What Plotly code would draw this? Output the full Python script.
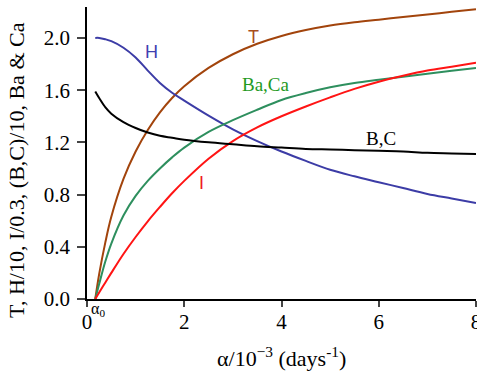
import plotly.graph_objects as go

# alpha grid (10^-3 days^-1), starting at alpha_0
alpha = [0.17, 0.25, 0.375, 0.5, 0.75, 1.0, 1.25, 1.5, 1.75, 2.0,
         2.5, 3.0, 3.5, 4.0, 4.5, 5.0, 5.5, 6.0, 6.5, 7.0, 7.5, 8.0]

t_vals = [0.0, 0.19, 0.43, 0.63, 0.92, 1.13, 1.295, 1.43, 1.54, 1.63,
          1.77, 1.875, 1.955, 2.015, 2.06, 2.095, 2.12, 2.14, 2.16, 2.18, 2.20, 2.22]
h_vals = [2.0, 2.0, 1.99, 1.975, 1.925, 1.85, 1.75, 1.655, 1.58, 1.52,
          1.405, 1.30, 1.21, 1.13, 1.058, 0.99, 0.94, 0.895, 0.85, 0.805, 0.77, 0.735]
i_vals = [0.0, 0.05, 0.125, 0.20, 0.345, 0.475, 0.595, 0.705, 0.81, 0.905,
          1.075, 1.21, 1.315, 1.40, 1.475, 1.545, 1.61, 1.665, 1.71, 1.75, 1.78, 1.81]
bc_vals = [1.59, 1.54, 1.47, 1.42, 1.355, 1.31, 1.275, 1.25, 1.235, 1.22,
           1.20, 1.185, 1.17, 1.16, 1.15, 1.145, 1.14, 1.135, 1.13, 1.12, 1.115, 1.11]
baca_vals = [0.0, 0.115, 0.285, 0.425, 0.64, 0.79, 0.905, 1.0, 1.085, 1.16,
             1.28, 1.37, 1.45, 1.525, 1.578, 1.622, 1.655, 1.68, 1.703, 1.725, 1.748, 1.77]

y_ticks = [0.0, 0.4, 0.8, 1.2, 1.6, 2.0]
y_tick_text = ["0.0", "0.4", "0.8", "1.2", "1.6", "2.0"]
x_ticks = [0, 2, 4, 6, 8]

series = [
    ("T", t_vals, "#a2440c"),
    ("H", h_vals, "#3c3ca6"),
    ("Ba,Ca", baca_vals, "#2e8f5e"),
    ("I", i_vals, "#ff1414"),
    ("B,C", bc_vals, "#000000"),
]

# curve labels: (text, x, y, colour, font family, size)
labels = [
    ("H", 1.33, 1.895, "#4040b0", "Liberation Sans", 18),
    ("T", 3.42, 2.01, "#a84e1c", "Liberation Sans", 18),
    ("Ba,Ca", 3.69, 1.64, "#1f9a1f", "Liberation Serif", 19),
    ("B,C", 6.05, 1.23, "#000000", "Liberation Serif", 19),
    ("I", 2.35, 0.887, "#ee1c1c", "Liberation Sans", 18),
]

fig = go.Figure()
for name, vals, col in series:
    fig.add_trace(go.Scatter(
        x=alpha, y=vals, mode="lines", name=name,
        line=dict(color=col, width=2, shape="spline", smoothing=1.0, simplify=False),
        showlegend=False, hoverinfo="skip",
    ))

for text, lx, ly, col, fam, sz in labels:
    fig.add_annotation(x=lx, y=ly, text=text, showarrow=False,
                       font=dict(family=fam, size=sz, color=col),
                       xanchor="center", yanchor="middle")

serif = "Liberation Serif"

# alpha_0 marker under the axis
fig.add_annotation(x=0.17, y=0, text="α<sub>0</sub>", showarrow=False,
                   xanchor="center", yanchor="top", yshift=1, xshift=3,
                   font=dict(family=serif, size=16, color="#000"))

# axis titles
fig.add_annotation(xref="paper", yref="paper", x=0.5, y=-0.2,
                   text="α/10<sup>−3</sup> (days<sup>-1</sup>)", showarrow=False,
                   xanchor="center", yanchor="middle",
                   font=dict(family=serif, size=22, color="#000"))
fig.add_annotation(xref="paper", yref="paper", x=-0.18, y=0.442,
                   text="T, H/10, I/0.3, (B,C)/10, Ba &amp; Ca", showarrow=False,
                   textangle=-90, xanchor="center", yanchor="middle",
                   font=dict(family=serif, size=22, color="#000"))

fig.update_layout(
    width=477, height=375,
    margin=dict(l=87, r=1, t=7, b=76),
    paper_bgcolor="white", plot_bgcolor="white",
    font=dict(family=serif, size=21, color="#000"),
    xaxis=dict(range=[0, 8], tickvals=x_ticks, ticks="outside", ticklen=6,
               tickwidth=1.5, showline=True, linecolor="#000", linewidth=1.5,
               showgrid=False, zeroline=False, ticklabeloverflow="allow",
               automargin=False, ticklabelstandoff=-3,
               tickfont=dict(family=serif, size=21)),
    yaxis=dict(range=[0, 2.237], tickvals=y_ticks, ticktext=y_tick_text,
               ticks="outside", ticklen=8, tickwidth=1.5, showline=True,
               linecolor="#000", linewidth=1.5, showgrid=False, zeroline=False,
               automargin=False, ticklabelstandoff=3,
               tickfont=dict(family=serif, size=21)),
)

fig.write_html("out.html")
